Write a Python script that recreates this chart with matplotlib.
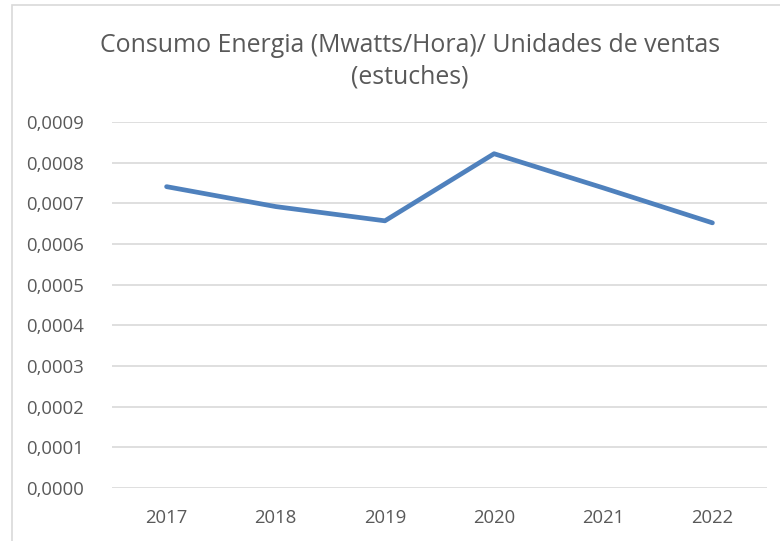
import matplotlib
matplotlib.use("Agg")
import matplotlib.pyplot as plt
from matplotlib.patches import Rectangle
from matplotlib.ticker import FuncFormatter

years = ["2017", "2018", "2019", "2020", "2021", "2022"]
consumo = [0.000741, 0.000692, 0.000657, 0.000822, 0.000738, 0.000652]
y_ticks = [0.0001 * i for i in range(10)]

plt.rcParams['font.family'] = ['Open Sans', 'DejaVu Sans']
text_color = '#595959'
grid_color = '#d9d9d9'

fig = plt.figure(figsize=(7.8, 5.41), dpi=100)
ax = fig.add_axes([112 / 780, 1 - 488 / 541, 655 / 780, 366 / 541])

x = list(range(len(years)))
ax.plot(x, consumo, color='#4F81BD', linewidth=3.4, solid_capstyle='round',
        solid_joinstyle='round', zorder=3)

ax.set_xlim(-0.5, len(years) - 0.5)
ax.set_ylim(0, 0.0009)
ax.set_yticks(y_ticks)
ax.yaxis.set_major_formatter(FuncFormatter(lambda v, p: f"{v:.4f}".replace('.', ',')))
ax.set_xticks(x)
ax.set_xticklabels(years)
ax.grid(axis='y', color=grid_color, linewidth=1.2)
ax.set_axisbelow(True)
for s in ax.spines.values():
    s.set_visible(False)
ax.tick_params(axis='both', length=0, labelsize=13.3, colors=text_color)
ax.tick_params(axis='y', pad=20)
ax.tick_params(axis='x', pad=15)

fig.text(410 / 780, 1 - 61 / 541, "Consumo Energia (Mwatts/Hora)/ Unidades de ventas\n(estuches)",
         ha='center', va='center', fontsize=17.9, color=text_color, linespacing=1.32)

fig.patches.append(Rectangle((12 / 780, -0.1), 1, 1 - 5 / 541 + 0.1, transform=fig.transFigure,
                             fill=False, edgecolor='#d9d9d9', linewidth=1.2))

fig.savefig("out.png", dpi=100)
